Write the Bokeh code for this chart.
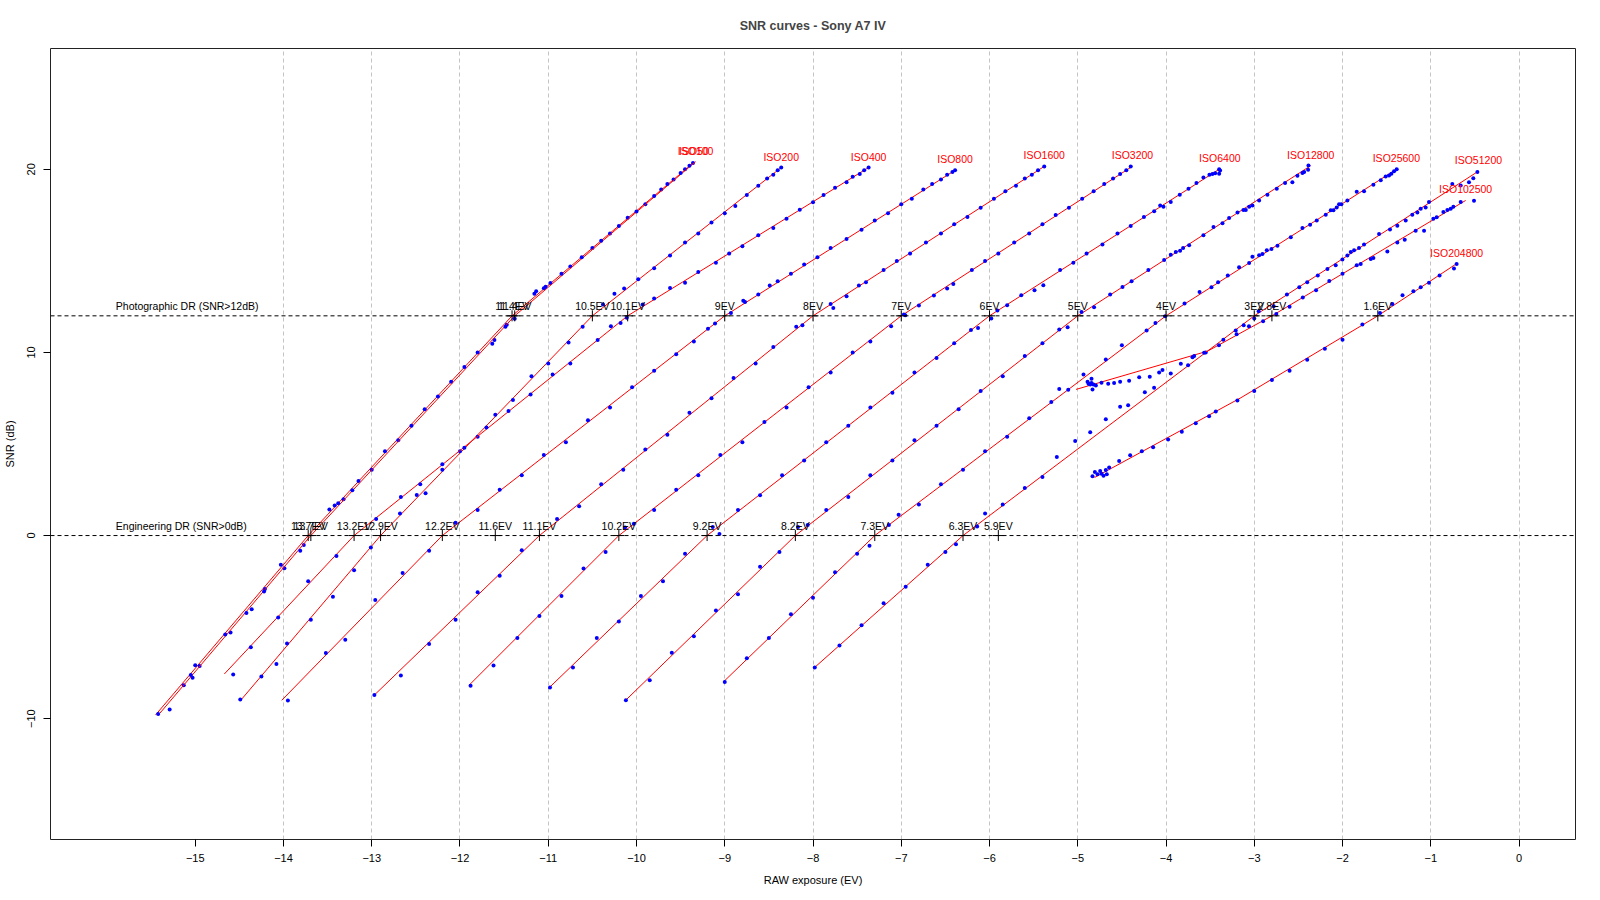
from bokeh.plotting import figure
from bokeh.models import Range1d, FixedTicker, Span
from bokeh.embed import file_html
from bokeh.resources import INLINE
from bokeh.core.properties import value

FONT = value("Liberation Sans")

# ---------------- data ----------------
iso_labels = ["ISO50", "ISO100", "ISO200", "ISO400", "ISO800", "ISO1600", "ISO3200",
              "ISO6400", "ISO12800", "ISO25600", "ISO51200", "ISO102500", "ISO204800"]
photo_dr = [11.41, 11.38, 10.5, 10.1, 9.0, 8.0, 7.0, 6.0, 5.0, 4.0, 3.0, 2.8, 1.6]
eng_dr = [13.72, 13.69, 12.9, 13.2, 12.2, 11.1, 10.2, 9.2, 8.2, 7.3, 6.3, 11.6, 5.9]
thresholds = [12, 0]
threshold_names = ["Photographic DR (SNR>12dB)", "Engineering DR (SNR>0dB)"]

# fitted curves (vertices)
fit_x = [
    [-15.45, -13.72, -11.41, -9.35],
    [-15.40, -13.69, -11.38, -9.33],
    [-14.48, -12.9, -10.5, -8.36],
    [-14.67, -13.2, -10.1, -7.37],
    [-14.02, -12.2, -9.0, -6.39],
    [-12.97, -11.1, -8.0, -5.38],
    [-11.90, -10.2, -7.0, -4.38],
    [-11.00, -9.2, -6.0, -3.39],
    [-10.13, -8.2, -5.0, -2.36],
    [-9.01, -7.3, -4.0, -1.39],
    [-7.99, -6.3, -3.0, -0.46],
    [-5.02, -3.53, -2.8, -0.605],
    [-4.81, -3.15, -1.6, -0.707],
]
fit_y = [
    [-9.8, 0, 12, 20.38],
    [-9.7, 0, 12, 20.42],
    [-8.97, 0, 12, 20.1],
    [-7.56, 0, 12, 20.1],
    [-9.0, 0, 12, 19.95],
    [-8.71, 0, 12, 20.16],
    [-8.19, 0, 12, 20.17],
    [-8.36, 0, 12, 20.03],
    [-9.03, 0, 12, 20.2],
    [-7.97, 0, 12, 20.0],
    [-7.24, 0, 12, 19.9],
    [7.98, 10.07, 12, 18.3],
    [3.17, 7.53, 12, 14.85],
]

# measured points
iso50_x = [-15.42, -15.13, -15.03, -14.95, -14.60, -14.36, -14.21, -13.99, -13.77, -13.42, -13.32, -13.15,
           -13.0, -12.7, -12.4, -12.1, -11.8, -11.61, -11.47, -11.157, -11.05, -10.975, -10.75, -10.5,
           -10.3, -10.1, -9.9, -9.72, -9.58, -9.45, -9.36]
iso50_y = [-9.74, -8.18, -7.76, -7.12, -5.30, -4.03, -2.92, -1.78, -0.52, 1.64, 1.98, 2.98,
           3.6, 5.2, 6.9, 8.4, 10.0, 10.68, 11.51, 13.21, 13.50, 13.79, 14.7, 15.7,
           16.5, 17.35, 18.1, 18.9, 19.45, 20.0, 20.35]
iso100_x = [-15.29, -15.05, -15.00, -14.66, -14.42, -14.22, -14.03, -13.81, -13.48, -13.38, -13.22,
            -12.85, -12.55, -12.25, -11.95, -11.634, -11.485, -11.38, -11.137, -11.03, -10.85, -10.62,
            -10.4, -10.2, -10.0, -9.8, -9.65, -9.5, -9.4]
iso100_y = [-9.50, -7.61, -7.09, -5.40, -4.23, -3.05, -1.60, -0.83, 1.42, 1.77, 2.47,
            4.6, 6.0, 7.6, 9.2, 10.48, 11.40, 11.84, 13.34, 13.59, 14.3, 15.2,
            16.1, 16.9, 17.7, 18.55, 19.2, 19.8, 20.2]
iso200_x = [-14.49, -14.25, -14.08, -13.96, -13.69, -13.44, -13.20, -13.01, -12.68, -12.49, -12.39,
            -12.2, -12.0, -11.8, -11.6, -11.4, -11.19, -11.0, -10.77, -10.61, -10.38, -10.25, -10.14,
            -9.98, -9.8, -9.62, -9.45, -9.3, -9.15, -9.0, -8.88, -8.75, -8.62, -8.52, -8.45, -8.40, -8.36]
iso200_y = [-8.96, -7.70, -7.01, -5.89, -4.60, -3.34, -1.89, -0.65, 1.20, 2.22, 2.31,
            3.6, 4.6, 5.4, 6.6, 7.4, 8.7, 9.4, 10.54, 11.40, 12.62, 13.2, 13.49,
            14.0, 14.6, 15.3, 16.0, 16.5, 17.1, 17.6, 18.0, 18.6, 19.1, 19.5, 19.7, 19.95, 20.1]
iso400_x = [-14.57, -14.37, -14.06, -13.72, -13.40, -12.95, -12.67, -12.45, -12.2, -11.95, -11.7,
            -11.45, -11.2, -10.95, -10.75, -10.44, -10.29, -10.18, -10.11, -9.93, -9.80, -9.62,
            -9.45, -9.3, -9.1, -8.95, -8.8, -8.62, -8.45, -8.3, -8.15, -8.0, -7.88, -7.75, -7.62,
            -7.55, -7.47, -7.42, -7.37]
iso400_y = [-7.59, -6.10, -4.47, -2.49, -1.11, 0.9, 2.11, 2.8, 3.9, 4.8, 5.9,
            6.8, 7.7, 8.8, 9.4, 10.68, 11.43, 11.61, 11.89, 12.62, 12.94, 13.52,
            13.8, 14.4, 14.9, 15.4, 15.8, 16.4, 16.8, 17.3, 17.8, 18.2, 18.6, 19.0, 19.3,
            19.6, 19.75, 19.95, 20.1]
iso800_x = [-13.95, -13.52, -13.30, -12.96, -12.65, -12.35, -12.05, -11.8, -11.55, -11.3, -11.05,
            -10.8, -10.55, -10.3, -10.05, -9.8, -9.55, -9.35, -9.19, -9.11, -8.93, -8.79, -8.77,
            -8.62, -8.49, -8.40, -8.25, -8.1, -7.95, -7.8, -7.62, -7.45, -7.3, -7.15, -7.0, -6.88,
            -6.75, -6.65, -6.55, -6.48, -6.42, -6.39]
iso800_y = [-9.01, -6.41, -5.69, -3.52, -2.05, -0.83, 0.7, 1.4, 2.5, 3.3, 4.4,
            5.1, 6.3, 7.0, 8.1, 9.0, 9.9, 10.6, 11.29, 11.58, 12.16, 12.83, 12.76,
            13.16, 13.65, 13.89, 14.3, 14.8, 15.2, 15.7, 16.2, 16.7, 17.2, 17.6, 18.1, 18.4,
            18.9, 19.2, 19.45, 19.7, 19.85, 19.95]
iso1600_x = [-12.97, -12.67, -12.35, -12.05, -11.8, -11.55, -11.3, -10.9, -10.65, -10.4, -10.15,
             -9.9, -9.65, -9.4, -9.15, -8.9, -8.65, -8.45, -8.19, -8.12, -7.80, -7.77, -7.62,
             -7.48, -7.40, -7.2, -7.05, -6.9, -6.72, -6.55, -6.4, -6.25, -6.1, -5.95, -5.82,
             -5.7, -5.6, -5.52, -5.45, -5.38]
iso1600_y = [-8.71, -7.65, -5.92, -4.6, -3.1, -2.2, -0.8, 0.9, 1.6, 2.8, 3.6,
             4.7, 5.5, 6.7, 7.5, 8.6, 9.4, 10.3, 11.40, 11.49, 12.65, 12.43, 13.07,
             13.65, 13.83, 14.5, 15.0, 15.4, 16.0, 16.5, 17.0, 17.4, 17.9, 18.4, 18.8,
             19.1, 19.5, 19.7, 19.95, 20.16]
iso3200_x = [-11.88, -11.62, -11.35, -11.1, -10.85, -10.6, -10.35, -10.13, -10.03, -9.8, -9.55,
             -9.3, -9.05, -8.8, -8.55, -8.3, -8.05, -7.8, -7.55, -7.35, -7.115, -6.97, -6.955,
             -6.80, -6.63, -6.48, -6.41, -6.2, -6.05, -5.9, -5.72, -5.55, -5.4, -5.25, -5.1,
             -4.95, -4.82, -4.7, -4.6, -4.52, -4.45, -4.4]
iso3200_y = [-8.2, -7.1, -5.6, -4.4, -3.3, -1.8, -0.9, 0.44, 0.65, 1.4, 2.5,
             3.3, 4.4, 5.1, 6.2, 7.0, 8.1, 8.9, 10.0, 10.6, 11.43, 12.07, 12.03,
             12.56, 13.11, 13.49, 13.74, 14.5, 15.0, 15.4, 16.0, 16.5, 17.0, 17.5, 17.9,
             18.4, 18.8, 19.2, 19.5, 19.75, 19.95, 20.15]
iso6400_x = [-10.98, -10.72, -10.45, -10.2, -9.95, -9.7, -9.45, -9.136, -9.06, -8.85, -8.6,
             -8.35, -8.1, -7.85, -7.6, -7.35, -7.1, -6.85, -6.6, -6.4, -6.21, -6.13, -5.98,
             -5.91, -5.80, -5.64, -5.49, -5.39, -5.2, -5.05, -4.9, -4.72, -4.55, -4.4, -4.25,
             -4.134, -4.066, -4.029, -3.946, -3.844, -3.745, -3.655, -3.576, -3.508, -3.474, -3.443,
             -3.398, -3.387, -3.398]
iso6400_y = [-8.3, -7.2, -5.6, -4.7, -3.3, -2.5, -1.0, 0.47, 0.08, 1.4, 2.2,
             3.3, 4.1, 5.1, 6.0, 7.0, 7.8, 8.9, 9.7, 10.5, 11.22, 11.34, 11.85,
             12.29, 12.58, 13.12, 13.40, 13.67, 14.5, 14.9, 15.4, 15.9, 16.5, 16.9, 17.4,
             17.71, 18.03, 17.96, 18.21, 18.61, 18.94, 19.25, 19.56, 19.70, 19.74, 19.79,
             20.01, 19.94, 19.76]
iso12800_x = [-10.12, -9.85, -9.6, -9.35, -9.1, -8.85, -8.6, -8.38, -8.17, -8.06, -7.85,
              -7.6, -7.35, -7.1, -6.85, -6.6, -6.35, -6.1, -5.85, -5.6, -5.4, -5.21, -5.115,
              -4.957, -4.815, -4.633, -4.493, -4.39, -4.2,
              -4.021, -3.946, -3.889, -3.840, -3.806, -3.738, -3.576, -3.462, -3.360, -3.285, -3.190,
              -3.123, -3.096, -3.058, -3.021, -2.945, -2.851, -2.745, -2.651, -2.568, -2.511, -2.454,
              -2.435, -2.390, -2.386]
iso12800_y = [-9.0, -7.9, -6.4, -5.5, -4.1, -3.2, -1.7, -0.9, 0.47, 0.58, 1.4,
              2.1, 3.3, 4.1, 5.2, 6.0, 6.9, 7.9, 8.7, 9.8, 10.5, 11.25, 11.38,
              12.21, 12.47, 13.16, 13.58, 13.89, 14.5,
              15.05, 15.34, 15.49, 15.56, 15.71, 15.85, 16.40, 16.85, 17.05, 17.34, 17.65,
              17.78, 17.78, 17.96, 18.03, 18.30, 18.61, 18.94, 19.25, 19.29, 19.65, 19.80,
              19.85, 19.98, 20.21]
iso25600_x = [-9.0, -8.75, -8.5, -8.25, -8.0, -7.75, -7.5, -7.36, -7.14, -7.03, -6.8,
              -6.55, -6.3, -6.05, -5.8, -5.55, -5.3, -5.210, -5.108, -4.935, -4.682, -4.5, -4.22,
              -4.12, -4.01, -3.79, -3.62, -3.485, -3.41, -3.3,
              -3.172, -3.058, -3.021, -2.945, -2.907, -2.858, -2.805,
              -2.737, -2.586, -2.454, -2.367, -2.292, -2.190, -2.133, -2.103, -2.066, -2.039, -2.013,
              -1.945, -1.839, -1.756, -1.650, -1.567, -1.511, -1.473, -1.446, -1.416, -1.386]
iso25600_y = [-8.0, -6.7, -5.6, -4.3, -3.4, -2.0, -1.0, -0.56, 0.58, 1.13, 1.7,
              2.8, 3.6, 4.6, 5.4, 6.4, 7.3, 8.00, 7.96, 8.80, 9.62, 10.4, 11.20,
              11.61, 11.98, 12.67, 13.30, 13.56, 13.83, 14.2,
              14.65, 14.89, 15.22, 15.31, 15.38, 15.58, 15.65,
              15.83, 16.29, 16.80, 16.98, 17.20, 17.52, 17.76, 17.76, 17.92, 18.10, 18.10,
              18.30, 18.78, 18.81, 19.16, 19.40, 19.61, 19.67, 19.76, 19.89, 20.01]
iso51200_x = [-7.98, -7.7, -7.45, -7.2, -6.95, -6.7, -6.5, -6.38, -6.14, -6.05, -5.85, -5.6, -5.4,
              -5.237, -5.029, -4.859, -4.682, -4.520, -4.429, -4.240, -4.135, -3.946, -3.75, -3.55,
              -3.35, -3.21, -3.12, -3.0, -2.95, -2.78, -2.63, -2.49, -2.40, -2.28,
              -2.171, -2.077, -2.001, -1.945, -1.907, -1.869, -1.813, -1.756, -1.586, -1.462, -1.379,
              -1.284, -1.209, -1.152, -1.114, -1.058, -1.020, -0.756, -0.661, -0.567, -0.518, -0.472]
iso51200_y = [-7.2, -6.0, -4.9, -3.7, -2.8, -1.6, -0.9, -0.47, 0.49, 1.20, 1.7, 2.6, 3.2,
              4.29, 5.16, 5.64, 6.35, 7.04, 7.11, 7.82, 8.07, 8.85, 9.3, 10.0,
              10.7, 11.20, 11.49, 11.85, 12.25, 12.52, 13.16, 13.56, 13.83, 14.2,
              14.56, 14.76, 15.07, 15.29, 15.49, 15.58, 15.71, 15.89, 16.47, 16.71, 16.92,
              17.20, 17.52, 17.65, 17.85, 17.92, 18.21, 19.20, 19.12, 19.30, 19.52, 19.85]
iso102500_x = [-4.889, -4.878, -4.859, -4.844, -4.844, -4.822, -4.833, -4.795, -4.731, -4.655, -4.588,
               -4.520, -4.418, -4.304, -4.184, -4.078, -4.040, -3.832, -3.700, -3.681, -3.568,
               -3.4, -3.2, -3.06, -2.9, -2.75, -2.6, -2.45, -2.3, -2.15, -2.0,
               -1.839, -1.794, -1.680, -1.650, -1.492, -1.379, -1.295, -1.171, -1.076, -0.971, -0.933,
               -0.857, -0.812, -0.774, -0.744, -0.661, -0.510]
iso102500_y = [8.40, 8.29, 8.25, 8.33, 8.56, 8.25, 7.98, 8.20, 8.34, 8.29, 8.33,
               8.40, 8.45, 8.64, 8.67, 8.91, 9.04, 9.38, 9.74, 9.80, 9.98,
               10.4, 11.0, 11.43, 11.7, 12.1, 12.5, 13.0, 13.4, 13.9, 14.3,
               14.76, 14.83, 15.11, 15.16, 15.52, 16.01, 16.16, 16.65, 16.65, 17.30, 17.38,
               17.67, 17.78, 17.85, 17.96, 18.21, 18.29]
iso204800_x = [-4.833, -4.806, -4.776, -4.746, -4.731, -4.708, -4.682, -4.671, -4.644, -4.531, -4.406,
               -4.274, -4.146, -3.976, -3.821, -3.663, -3.512, -3.436, -3.191, -3.0, -2.8, -2.6,
               -2.4, -2.2, -2.0, -1.775, -1.575, -1.435, -1.32, -1.197, -1.114, -1.02, -0.9,
               -0.737, -0.707]
iso204800_y = [3.24, 3.47, 3.35, 3.53, 3.38, 3.26, 3.58, 3.35, 3.71, 4.07, 4.38,
               4.60, 4.82, 5.25, 5.67, 6.14, 6.51, 6.78, 7.38, 7.9, 8.5, 9.0,
               9.6, 10.2, 10.7, 11.53, 12.16, 12.65, 13.12, 13.34, 13.56, 13.80, 14.2,
               14.58, 14.83]

points_x = [iso50_x, iso100_x, iso200_x, iso400_x, iso800_x, iso1600_x, iso3200_x, iso6400_x,
            iso12800_x, iso25600_x, iso51200_x, iso102500_x, iso204800_x]
points_y = [iso50_y, iso100_y, iso200_y, iso400_y, iso800_y, iso1600_y, iso3200_y, iso6400_y,
            iso12800_y, iso25600_y, iso51200_y, iso102500_y, iso204800_y]

x_ticks = list(range(-15, 1))
grid_ticks = list(range(-14, 1))
y_ticks = [-10, 0, 10, 20]

# ---------------- figure ----------------
p = figure(width=1584, height=890, x_range=Range1d(-16.64, 0.64), y_range=Range1d(-16.6, 26.6),
           output_backend="svg", toolbar_location=None,
           min_border_left=49, min_border_right=9, min_border_top=48, min_border_bottom=51)

p.title.text = "SNR curves - Sony A7 IV"
p.title.align = "center"
p.title.text_font = "Liberation Sans"
p.title.text_font_size = "12.5px"
p.title.text_font_style = "bold"
p.title.standoff = 32

p.outline_line_color = "#222222"
p.outline_line_width = 1
p.background_fill_color = "white"
p.border_fill_color = "white"

p.xaxis.ticker = FixedTicker(ticks=x_ticks)
p.yaxis.ticker = FixedTicker(ticks=y_ticks)
for ax in (p.xaxis[0], p.yaxis[0]):
    ax.axis_line_color = None
    ax.major_tick_in = 0
    ax.major_tick_out = 7
    ax.major_tick_line_color = "black"
    ax.minor_tick_line_color = None
    ax.major_label_text_font = "Liberation Sans"
    ax.major_label_text_font_size = "11px"
    ax.major_label_text_color = "black"
    ax.axis_label_text_font = "Liberation Sans"
    ax.axis_label_text_font_size = "11px"
    ax.axis_label_text_font_style = "normal"
    ax.axis_label_text_color = "black"
p.xaxis.axis_label = "RAW exposure (EV)"
p.yaxis.axis_label = "SNR (dB)"
p.xaxis.major_label_standoff = 7
p.xaxis.axis_label_standoff = 9
p.yaxis.major_label_orientation = "vertical"
p.yaxis.major_label_standoff = 8
p.yaxis.axis_label_standoff = 9

p.xgrid.ticker = FixedTicker(ticks=grid_ticks)
p.xgrid.grid_line_color = "#c4c4c4"
p.xgrid.grid_line_dash = "4 3"
p.ygrid.grid_line_color = None

for t in thresholds:
    p.add_layout(Span(location=t, dimension="width", line_color="black",
                      line_dash="4 3", line_width=1))

# threshold names
p.text(x=[-15.9, -15.9], y=thresholds, text=threshold_names, y_offset=-10,
       text_align="left", text_baseline="middle", text_font=FONT,
       text_font_size="10.5px", text_color="black")

# fitted curves and points
for fx, fy, px, py in zip(fit_x, fit_y, points_x, points_y):
    p.line(fx, fy, line_color="red", line_width=1)
    p.scatter(px, py, size=4, fill_color="blue", line_color=None)

# ISO labels at curve ends
end_x = [fx[-1] for fx in fit_x]
end_y = [fy[-1] for fy in fit_y]
p.text(x=end_x, y=end_y, text=iso_labels, y_offset=-11, text_align="center",
       text_baseline="middle", text_font=FONT, text_font_size="10.5px", text_color="red")

# DR crossings
for drs, t in zip([photo_dr, eng_dr], thresholds):
    xs = [-d for d in drs]
    ys = [t] * len(drs)
    p.scatter(xs, ys, marker="cross", size=11, line_color="black", line_width=1)
    p.text(x=xs, y=ys, text=["%gEV" % round(d, 1) for d in drs], y_offset=-10,
           text_align="center", text_baseline="middle", text_font=FONT,
           text_font_size="10.5px", text_color="black")

open("out.html", "w").write(file_html(p, INLINE))
